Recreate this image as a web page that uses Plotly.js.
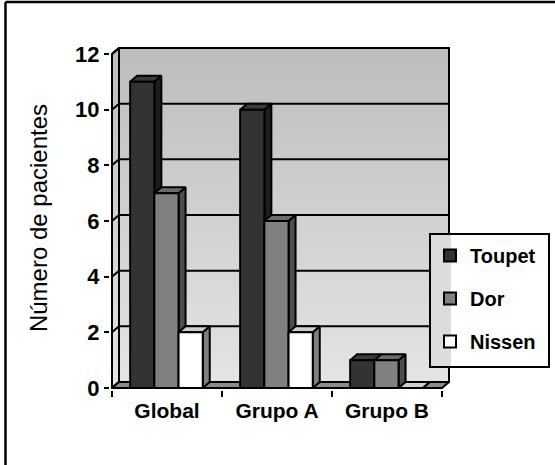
<!DOCTYPE html>
<html>
<head>
<meta charset="utf-8">
<script src="https://cdn.plot.ly/plotly-3.0.1.min.js"></script>
<style>
  html, body { margin: 0; padding: 0; background: #ffffff; }
  #chart { width: 555px; height: 465px; }
</style>
</head>
<body>
<div id="chart"></div>
<script>
// ---- data ----
const categories = ['Global', 'Grupo A', 'Grupo B'];
const seriesNames = ['Toupet', 'Dor', 'Nissen'];
const toupet = [11, 10, 1];
const dor = [7, 6, 1];
const nissen = [2, 2, 0];
const yTickValues = [0, 2, 4, 6, 8, 10, 12];

// ---- geometry / style ----
const FONT = 'Liberation Sans, Arial, Helvetica, sans-serif';
const PX_PER_CAT = 110;          // horizontal pixels per category
const PX_PER_UNIT = 27.83;       // vertical pixels per patient
const DX = 7 / PX_PER_CAT;       // depth offset of the pseudo-3D walls/bars
const DY = 6 / PX_PER_UNIT;
const X_LO = -0.5, X_HI = categories.length - 0.5;
const Y_TOP = yTickValues[yTickValues.length - 1];
const PADX = 2 / PX_PER_CAT, PADY = 2 / PX_PER_UNIT;
const xRange = [X_LO - PADX, X_HI + DX + PADX];
const yRange = [-PADY, Y_TOP + DY + PADY];

const M = { l: 110, t: 46 };
const PW = (xRange[1] - xRange[0]) * PX_PER_CAT;
const PH = (yRange[1] - yRange[0]) * PX_PER_UNIT;
M.r = 555 - M.l - PW;
M.b = 465 - M.t - PH;
const px2x = px => (px - M.l) / PW;
const px2y = py => (M.t + PH - py) / PH;

const BAR_W = 0.22;
const SERIES_OFFSET = [-0.335, -0.115, 0.105];
const FRONT = ['#333333', '#808080', '#ffffff'];
const TOP = ['#3a3a3a', '#6b6b6b', '#cfcfcf'];
const SIDE = ['#1e1e1e', '#4d4d4d', '#808080'];
const EDGE = { color: '#000000', width: 2 };
const WALL_GRADIENT = { type: 'vertical', colorscale: [[0, '#e4e4e4'], [1, '#bdbdbd']] };

const seriesValues = [toupet, dor, nissen];
const traces = [];

function poly(xs, ys, fill, extra) {
  return Object.assign({
    type: 'scatter', mode: 'lines', x: xs, y: ys, fill: 'toself',
    fillcolor: fill, line: EDGE, hoverinfo: 'skip', showlegend: false,
    xaxis: 'x', yaxis: 'y'
  }, extra || {});
}

// back wall and left wall
traces.push(poly(
  [X_LO + DX, X_HI + DX, X_HI + DX, X_LO + DX, X_LO + DX],
  [DY, DY, Y_TOP + DY, Y_TOP + DY, DY],
  '#d0d0d0', { fillgradient: WALL_GRADIENT }));
traces.push(poly(
  [X_LO, X_LO + DX, X_LO + DX, X_LO, X_LO],
  [0, DY, Y_TOP + DY, Y_TOP, 0],
  '#d0d0d0', { fillgradient: WALL_GRADIENT }));

// gridlines across the left wall and the back wall
const gx = [], gy = [];
yTickValues.forEach(v => {
  gx.push(X_LO, X_LO + DX, X_HI + DX, null);
  gy.push(v, v + DY, v + DY, null);
});
traces.push({ type: 'scatter', mode: 'lines', x: gx, y: gy, line: EDGE,
  hoverinfo: 'skip', showlegend: false, connectgaps: false });

// floor
traces.push(poly(
  [X_LO, X_HI, X_HI + DX, X_LO + DX, X_LO],
  [0, 0, DY, DY, 0], '#8c8c8c'));

// side and top faces of every column
seriesValues.forEach((vals, s) => {
  const sx = [], sy = [], tx = [], ty = [];
  vals.forEach((v, c) => {
    const x0 = c + SERIES_OFFSET[s], x1 = x0 + BAR_W;
    sx.push(x1, x1 + DX, x1 + DX, x1, x1, null);
    sy.push(0, DY, v + DY, v, 0, null);
    tx.push(x0, x1, x1 + DX, x0 + DX, x0, null);
    ty.push(v, v, v + DY, v + DY, v, null);
  });
  traces.push(poly(sx, sy, SIDE[s]));
  traces.push(poly(tx, ty, TOP[s]));
});

// front value axis and front floor edge
traces.push({ type: 'scatter', mode: 'lines',
  x: [X_LO, X_LO, X_HI], y: [Y_TOP, 0, 0],
  line: EDGE, hoverinfo: 'skip', showlegend: false });

// front faces of the columns (overlay subplot, drawn above everything else)
seriesValues.forEach((vals, s) => {
  traces.push({
    type: 'bar', name: seriesNames[s], x: categories, y: vals,
    xaxis: 'x2', yaxis: 'y',
    offset: SERIES_OFFSET[s], width: BAR_W,
    marker: { color: FRONT[s], line: EDGE },
    legendgroup: 'g' + s, hoverinfo: 'skip'
  });
});

const layout = {
  width: 555, height: 465,
  margin: { l: M.l, r: M.r, t: M.t, b: M.b, pad: 0 },
  paper_bgcolor: '#ffffff', plot_bgcolor: 'rgba(0,0,0,0)',
  barmode: 'overlay',
  showlegend: true,
  font: { family: FONT, color: '#000000' },
  xaxis: { type: 'linear', range: xRange, visible: false, fixedrange: true },
  xaxis2: {
    type: 'category', overlaying: 'x', anchor: 'y', side: 'bottom',
    categoryorder: 'array', categoryarray: categories,
    range: xRange, tickson: 'boundaries',
    ticks: 'outside', ticklen: 6, tickwidth: 2, tickcolor: '#000000',
    ticklabelstandoff: 6,
    showline: false, showgrid: false, zeroline: false,
    tickfont: { family: FONT, size: 21, weight: 'bold', color: '#000000' },
    fixedrange: true
  },
  yaxis: {
    range: yRange, tickvals: yTickValues,
    ticks: 'outside', ticklen: 5, tickwidth: 2, tickcolor: '#000000',
    showline: false, showgrid: false, zeroline: false,
    tickfont: { family: FONT, size: 22, weight: 'bold', color: '#000000' },
    title: { text: 'Número de pacientes', standoff: 20,
             font: { family: FONT, size: 24, color: '#000000' } },
    fixedrange: true
  },
  legend: {
    x: px2x(430), xanchor: 'left', y: px2y(236), yanchor: 'top',
    bgcolor: 'rgba(0,0,0,0)', borderwidth: 0,
    traceorder: 'grouped', tracegroupgap: 14,
    font: { family: FONT, size: 20, weight: 'bold', color: '#000000' }
  },
  shapes: [
    // legend box with the wall showing at its left
    { type: 'rect', xref: 'paper', yref: 'paper', layer: 'above',
      x0: px2x(430), x1: px2x(549), y0: px2y(367), y1: px2y(234),
      fillcolor: '#ffffff', line: { color: '#000000', width: 2 } },
    { type: 'rect', xref: 'paper', yref: 'paper', layer: 'above',
      x0: px2x(431), x1: px2x(451), y0: px2y(366), y1: px2y(235),
      fillcolor: '#dcdcdc', line: { width: 0 } },
    // chart frame
    { type: 'line', xref: 'paper', yref: 'paper', layer: 'above',
      x0: px2x(5.5), x1: px2x(556), y0: px2y(2), y1: px2y(2),
      line: { color: '#000000', width: 2.5 } },
    { type: 'line', xref: 'paper', yref: 'paper', layer: 'above',
      x0: px2x(5.5), x1: px2x(5.5), y0: px2y(2), y1: px2y(466),
      line: { color: '#000000', width: 2.5 } }
  ]
};

Plotly.newPlot('chart', traces, layout, { displayModeBar: false, staticPlot: true });
</script>
</body>
</html>
